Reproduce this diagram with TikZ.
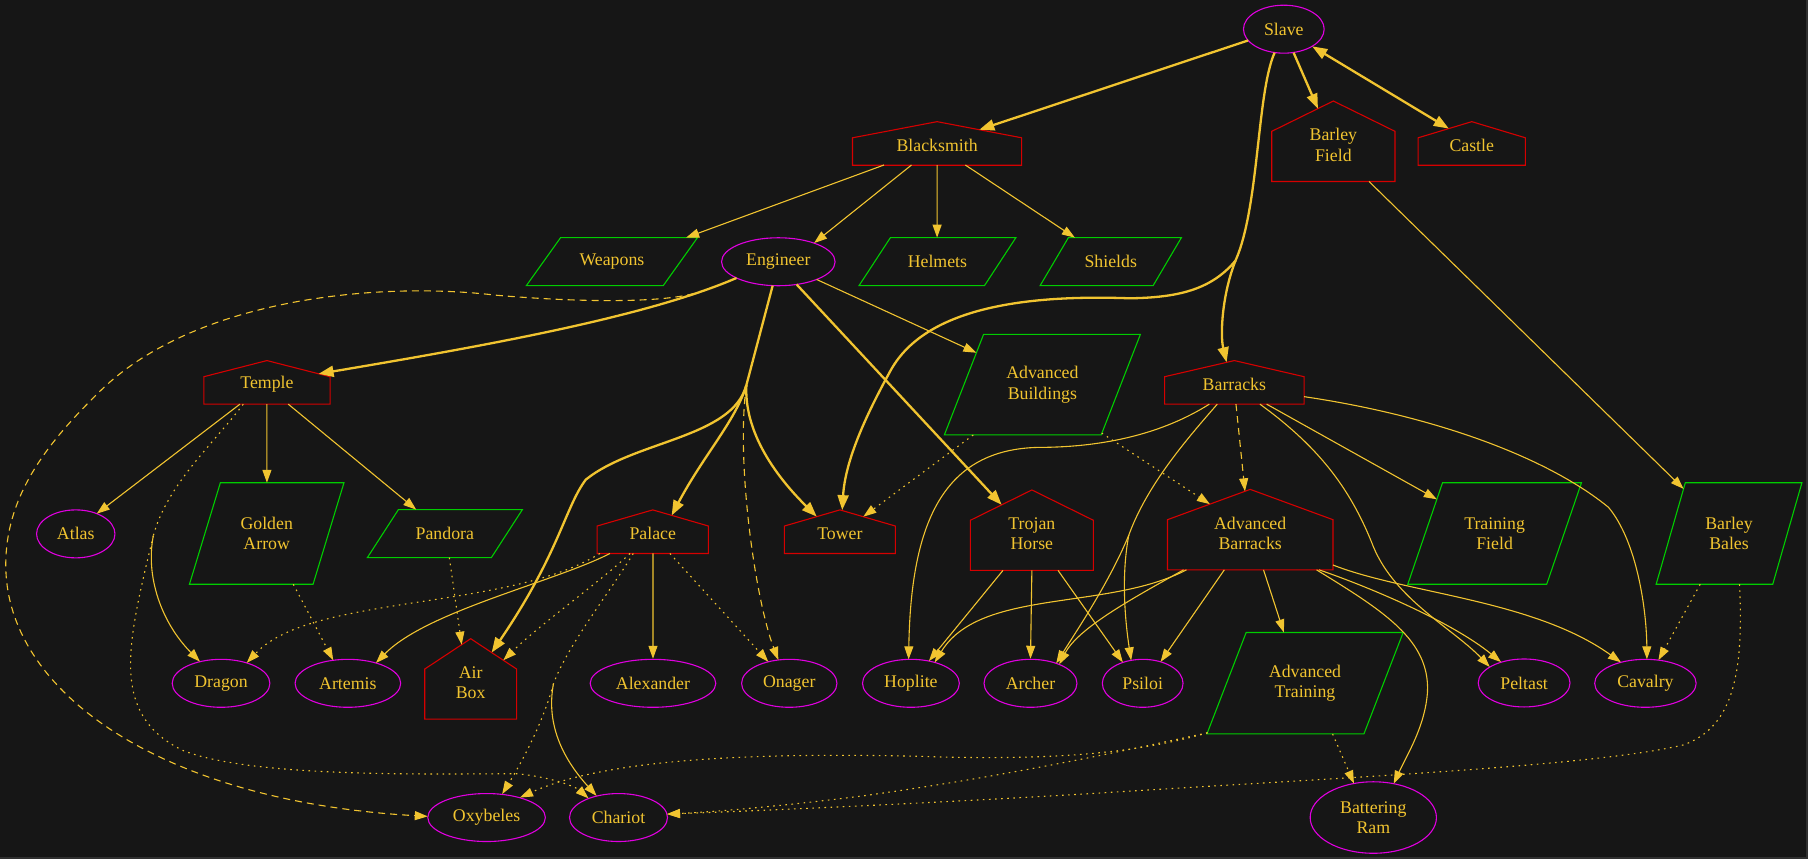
\documentclass[tikz,border=0pt]{standalone}
\usepackage{fontspec}
\setmainfont{Liberation Serif}
\newfontfamily\graphfont{Liberation Serif}
\usetikzlibrary{arrows.meta, calc, shapes.geometric}
\definecolor{bgdark}{RGB}{22,22,22}
\definecolor{frameedge}{RGB}{48,48,48}
\definecolor{gold}{RGB}{241,196,48}
\definecolor{housered}{RGB}{214,0,0}
\definecolor{leafgreen}{RGB}{0,205,0}
\definecolor{unitmag}{RGB}{224,0,224}
\newcommand{\pxu}{1.1531pt}
\newcommand{\nodefont}{\graphfont\fontsize{17.8}{20.5}\selectfont}
\tikzset{
	unitnode/.style={ellipse, draw=unitmag, line width=1.1pt, text=gold, font=\nodefont, align=center, inner sep=0pt, minimum height=41.6*\pxu},
	wd/.style={minimum width=#1*\pxu},
	bldg/.style={rectangle, inner sep=0pt, text=gold, font=\nodefont, align=center},
	itemnode/.style={rectangle, inner sep=0pt, text=gold, font=\nodefont, align=center},
	redline/.style={draw=housered, line width=1.1pt},
	greenline/.style={draw=leafgreen, line width=1.1pt},
	trunk/.style={draw=gold, line width=1.1pt},
	flow/.style={trunk, -{Triangle[length=13pt,width=9pt]}},
	boldtrunk/.style={draw=gold, line width=2.3pt},
	boldflow/.style={boldtrunk, -{Triangle[length=15pt,width=11pt]}},
	dashflow/.style={flow, dash pattern=on 7pt off 5pt},
	dottrunk/.style={trunk, dash pattern=on 1.6pt off 4.5pt},
	dotflow/.style={flow, dash pattern=on 1.6pt off 4.5pt},
}
\begin{document}
\begin{tikzpicture}[x=1.1531pt, y=-1.1531pt]
	\useasboundingbox (0,0) rectangle (1568,745);
	\fill[bgdark] (0,0) rectangle (1568,745);
	\draw[frameedge, line width=1.5pt] (0,744.3) -- (1567.3,744.3) -- (1567.3,0);
	% units
	\node[unitnode, wd=70] (slave) at (1113.4,25.3) {Slave};
	\node[unitnode, wd=98.5] (engineer) at (675,227) {Engineer};
	\node[unitnode, wd=68] (atlas) at (65.7,463) {Atlas};
	\node[unitnode, wd=84.7] (dragon) at (191.7,592.6) {Dragon};
	\node[unitnode, wd=91.6] (artemis) at (301.7,592.6) {Artemis};
	\node[unitnode, wd=109] (alexander) at (566.3,592.6) {Alexander};
	\node[unitnode, wd=82.7] (onager) at (684.5,592.6) {Onager};
	\node[unitnode, wd=84] (hoplite) at (790,592.6) {Hoplite};
	\node[unitnode, wd=80.6] (archer) at (893.7,592.6) {Archer};
	\node[unitnode, wd=70] (psiloi) at (991,592.6) {Psiloi};
	\node[unitnode, wd=79.6] (peltast) at (1321.8,592.3) {Peltast};
	\node[unitnode, wd=88] (cavalry) at (1427,592.6) {Cavalry};
	\node[unitnode, wd=102] (oxybeles) at (422,709) {Oxybeles};
	\node[unitnode, wd=85] (chariot) at (536.4,709) {Chariot};
	\node[unitnode, wd=109.5, minimum height=62*\pxu] (batteringram) at (1191,709) {Battering\\Ram};
	% buildings
	\node[bldg] (blacksmith) at (812.7,126.3) {Blacksmith};
	\node[bldg] (castle) at (1276.4,126.3) {Castle};
	\node[bldg] (temple) at (231.5,333.5) {Temple};
	\node[bldg] (barracks) at (1070.5,333.5) {Barracks};
	\node[bldg] (palace) at (566.1,463) {Palace};
	\node[bldg] (tower) at (728.4,463) {Tower};
	\node[bldg] (barleyfield) at (1156.35,125.7) {Barley\\Field};
	\node[bldg] (trojanhorse) at (894.9,463) {Trojan\\Horse};
	\node[bldg] (advbarracks) at (1084.25,462.5) {Advanced\\Barracks};
	\node[bldg] (airbox) at (408.2,592) {Air\\Box};
	% items
	\node[itemnode] (weapons) at (530.7,226.9) {Weapons};
	\node[itemnode] (helmets) at (813,226.9) {Helmets};
	\node[itemnode] (shields) at (963.3,226.9) {Shields};
	\node[itemnode] (pandora) at (385.8,462.8) {Pandora};
	\node[itemnode] (advbuildings) at (904,333.6) {Advanced\\Buildings};
	\node[itemnode] (goldenarrow) at (231.3,462.7) {Golden\\Arrow};
	\node[itemnode] (trainingfield) at (1296.2,462.7) {Training\\Field};
	\node[itemnode] (barleybales) at (1499.5,462.7) {Barley\\Bales};
	\node[itemnode] (advtraining) at (1131.8,592.5) {Advanced\\Training};
	% outlines
	\foreach \n/\w in {blacksmith/73.35, castle/46.5, temple/54.75, barracks/60.5, palace/48.3, tower/48.1}
		\draw[redline] (\n.center) ++(-\w,17) -- ++(2*\w,0) -- ++(0,-23.8) -- ++(-\w,-14) -- ++(-\w,14) -- cycle;
	\foreach \n/\w in {barleyfield/53.45, trojanhorse/53.3, advbarracks/71.75, airbox/39.8}
		\draw[redline] (\n.center) ++(-\w,31.7) -- ++(2*\w,0) -- ++(0,-43.5) -- ++(-\w,-26.3) -- ++(-\w,26.3) -- cycle;
	\foreach \n/\w/\h in {weapons/74.2/20.8, helmets/68/20.8, shields/61.25/20.8, pandora/67.2/20.8, advbuildings/85/43.6, goldenarrow/67/44, trainingfield/75.3/44, barleybales/63.2/44, advtraining/85.1/44}
		\draw[greenline] (\n.center) ++(-\w,\h) -- ++(1.6*\w,0) -- ++(0.4*\w,-2*\h) -- ++(-1.6*\w,0) -- cycle;
	% split points
	\coordinate (slavesplit) at (1071.5,226);
	\coordinate (engsplit) at (647.3,334);
	\coordinate (engleft) at (602,254.5);
	\coordinate (templesplit) at (133,464.5);
	\coordinate (palacesplit) at (480,593);
	\coordinate (barrsplit) at (979,464);
	% slave
	\draw[boldflow] ($(slave)+(-31,9.8)$) -- ($(blacksmith)+(36.6,-13.8)$);
	\draw[boldflow] ($(slave)+(8.5,20.4)$) -- ($(barleyfield)+(-13.35,-31.4)$);
	\draw[boldflow, {Triangle[length=15pt,width=11pt]}-{Triangle[length=15pt,width=11pt]}] ($(slave)+(24.6,14.9)$) -- ($(castle)+(-19.9,-14.8)$);
	\draw[boldtrunk] ($(slave)+(-8,20.4)$) .. controls (1090,80) and (1092,180) .. (slavesplit);
	\draw[boldflow] (slavesplit) .. controls (1050,252) and (1020,258) .. (980,258.7) .. controls (880,255) and (800,270) .. (772,322) .. controls (750,362) and (733,400) .. ($(tower)+(2,-20.6)$);
	\draw[boldflow] (slavesplit) .. controls (1060,255) and (1058,290) .. ($(barracks)+(-6.7,-19.3)$);
	% blacksmith
	\draw[flow] ($(blacksmith)+(-46.1,16.8)$) -- ($(weapons)+(64.3,-20.8)$);
	\draw[flow] ($(blacksmith)+(-22.2,16.8)$) -- ($(engineer)+(31,-16.2)$);
	\draw[flow] ($(blacksmith)+(0,16.8)$) -- ($(helmets)+(-0.3,-20.8)$);
	\draw[flow] ($(blacksmith)+(24.5,16.8)$) -- ($(shields)+(-31.1,-20.8)$);
	\draw[flow] ($(barleyfield)+(30.95,31.7)$) -- ($(barleybales)+(-39.4,-38.7)$);
	% engineer
	\draw[dashflow] (engsplit) .. controls (638,400) and (655,520) .. ($(onager)+(-9.5,-20.2)$);
	\draw[dashflow] (engleft) .. controls (570,263) and (500,262) .. (430,256) .. controls (330,244) and (170,258) .. (87,339) .. controls (40,385) and (5,430) .. (5,490) .. controls (5,600) and (140,695) .. ($(oxybeles)+(-51,-1)$);
	\draw[boldtrunk] ($(engineer)+(-4.9,20.7)$) -- (engsplit);
	\draw[boldflow] ($(engineer)+(-36.3,14.1)$) .. controls (560,275) and (420,300) .. ($(temple)+(44.8,-9.3)$);
	\draw[boldflow] (engsplit) .. controls (638,365) and (610,395) .. ($(palace)+(16.4,-16)$);
	\draw[boldflow] (engsplit) .. controls (645,380) and (680,420) .. ($(tower)+(-20.1,-15)$);
	\draw[boldflow] (engsplit) .. controls (635,380) and (550,382) .. (508,416) .. controls (490,440) and (485,480) .. ($(airbox)+(18.2,-26.1)$);
	\draw[boldflow] ($(engineer)+(15.9,19.7)$) -- ($(trojanhorse)+(-26.2,-25.2)$);
	\draw[flow] ($(engineer)+(33.3,15.4)$) -- ($(advbuildings)+(-57.2,-27.7)$);
	% temple
	\draw[flow] ($(temple)+(-23.4,17)$) -- ($(atlas)+(18.2,-17.5)$);
	\draw[flow] ($(temple)+(0,17)$) -- ($(goldenarrow)+(0.2,-44)$);
	\draw[flow] ($(temple)+(18.5,17)$) -- ($(pandora)+(-24.8,-20.8)$);
	\draw[dottrunk] ($(temple)+(-20.5,17)$) .. controls (185,385) and (145,420) .. (templesplit);
	\draw[flow] (templesplit) .. controls (126,500) and (140,540) .. ($(dragon)+(-18.3,-18.8)$);
	\draw[dotflow] (templesplit) .. controls (110,560) and (95,620) .. (159,651) .. controls (220,675) and (380,671) .. (448,671) .. controls (480,674) and (500,683) .. ($(chariot)+(-26,-16.6)$);
	\draw[dotflow] ($(goldenarrow)+(23.1,44)$) -- ($(artemis)+(-12.7,-20)$);
	\draw[dotflow] ($(pandora)+(3.9,20.8)$) -- ($(airbox)+(-7.8,-32.9)$);
	% palace
	\draw[flow] ($(palace)+(0.2,17)$) -- (alexander.north);
	\draw[flow] ($(palace)+(-37.1,17)$) .. controls (480,505) and (370,530) .. ($(artemis)+(24.3,-17.6)$);
	\draw[dotflow] ($(palace)+(-45.8,17)$) .. controls (440,530) and (270,515) .. ($(dragon)+(22.3,-17.7)$);
	\draw[dotflow] ($(palace)+(-19.7,17)$) .. controls (520,505) and (470,540) .. ($(airbox)+(28.3,-19.4)$);
	\draw[dottrunk] ($(palace)+(-16.9,17)$) .. controls (528,515) and (492,560) .. (palacesplit);
	\draw[dotflow] (palacesplit) .. controls (470,630) and (450,665) .. ($(oxybeles)+(13.5,-20.3)$);
	\draw[flow] (palacesplit) .. controls (473,630) and (490,660) .. ($(chariot)+(-19,-18.8)$);
	\draw[dotflow] ($(palace)+(14.9,17)$) -- ($(onager)+(-18.2,-18.7)$);
	% advanced buildings
	\draw[dotflow] ($(advbuildings)+(-59.9,43.6)$) -- ($(tower)+(20.3,-14.9)$);
	\draw[dotflow] ($(advbuildings)+(51.5,42)$) -- ($(advbarracks)+(-34.95,-25.3)$);
	% barracks
	\draw[dashflow] ($(barracks)+(1.4,17)$) -- ($(advbarracks)+(-4.55,-36.4)$);
	\draw[flow] ($(barracks)+(28,17)$) -- ($(trainingfield)+(-50.1,-29.7)$);
	\draw[flow] ($(barracks)+(60.5,10.5)$) .. controls (1240,360) and (1340,395) .. (1395,440) .. controls (1420,470) and (1428,530) .. ($(cavalry)+(1.3,-20.8)$);
	\draw[flow] ($(barracks)+(22.2,17)$) .. controls (1140,385) and (1170,420) .. (1191,474) .. controls (1210,520) and (1260,545) .. ($(peltast)+(-29.8,-13.9)$);
	\draw[flow] ($(barracks)+(-21.7,17)$) .. controls (1010,375) and (960,388) .. (900,388) .. controls (820,390) and (790,450) .. ($(hoplite)+(-2,-20.8)$);
	\draw[trunk] ($(barracks)+(-14.8,17)$) .. controls (1030,380) and (995,420) .. (barrsplit);
	\draw[flow] (barrsplit) .. controls (962,505) and (935,545) .. ($(archer)+(22.3,-17.3)$);
	\draw[flow] (barrsplit) .. controls (972,500) and (976,540) .. ($(psiloi)+(-10,-19.9)$);
	% trojan horse
	\draw[flow] ($(trojanhorse)+(-25.1,31.7)$) -- ($(hoplite)+(15.6,-19.3)$);
	\draw[flow] ($(trojanhorse)+(0,31.7)$) -- (archer.north);
	\draw[flow] ($(trojanhorse)+(22.7,31.7)$) -- ($(psiloi)+(-17.2,-18.2)$);
	% advanced barracks
	\draw[flow] ($(advbarracks)+(-55.25,31.7)$) .. controls (960,530) and (850,510) .. ($(hoplite)+(20.6,-18.1)$);
	\draw[flow] ($(advbarracks)+(-57.75,31.7)$) .. controls (980,520) and (935,545) .. ($(archer)+(24.9,-16.4)$);
	\draw[flow] ($(advbarracks)+(-22.45,31.7)$) -- ($(psiloi)+(15.5,-18.6)$);
	\draw[flow] ($(advbarracks)+(11.55,31.7)$) -- ($(advtraining)+(-18.4,-44)$);
	\draw[flow] ($(advbarracks)+(59.75,31.7)$) .. controls (1190,510) and (1260,540) .. ($(peltast)+(-20,-18.1)$);
	\draw[flow] ($(advbarracks)+(71.75,27.5)$) .. controls (1220,515) and (1330,520) .. ($(cavalry)+(-21.2,-18.2)$);
	\draw[flow] ($(advbarracks)+(57.55,31.7)$) .. controls (1200,530) and (1240,555) .. (1238,600) .. controls (1236,630) and (1220,655) .. ($(batteringram)+(17.7,-29.3)$);
	% barley bales, advanced training
	\draw[dotflow] ($(barleybales)+(-25,44)$) -- ($(cavalry)+(11.3,-20.1)$);
	\draw[dotflow] ($(barleybales)+(9.1,44)$) .. controls (1512,580) and (1505,630) .. (1460,646) .. controls (1380,665) and (1150,675) .. (950,688) .. controls (800,697) and (660,703) .. ($(chariot)+(42.1,-3)$);
	\draw[dotflow] ($(advtraining)+(23.9,44)$) -- ($(batteringram)+(-16.8,-29.5)$);
	\draw[dotflow] ($(advtraining)+(-84.5,43)$) .. controls (990,652) and (920,660) .. (800,656) .. controls (640,652) and (520,660) .. ($(oxybeles)+(29,-17.3)$);
	\draw[dotflow] ($(advtraining)+(-84.5,43)$) .. controls (980,650) and (880,672) .. (750,690) .. controls (680,699) and (620,704) .. ($(chariot)+(42.1,-3)$);
\end{tikzpicture}
\end{document}
